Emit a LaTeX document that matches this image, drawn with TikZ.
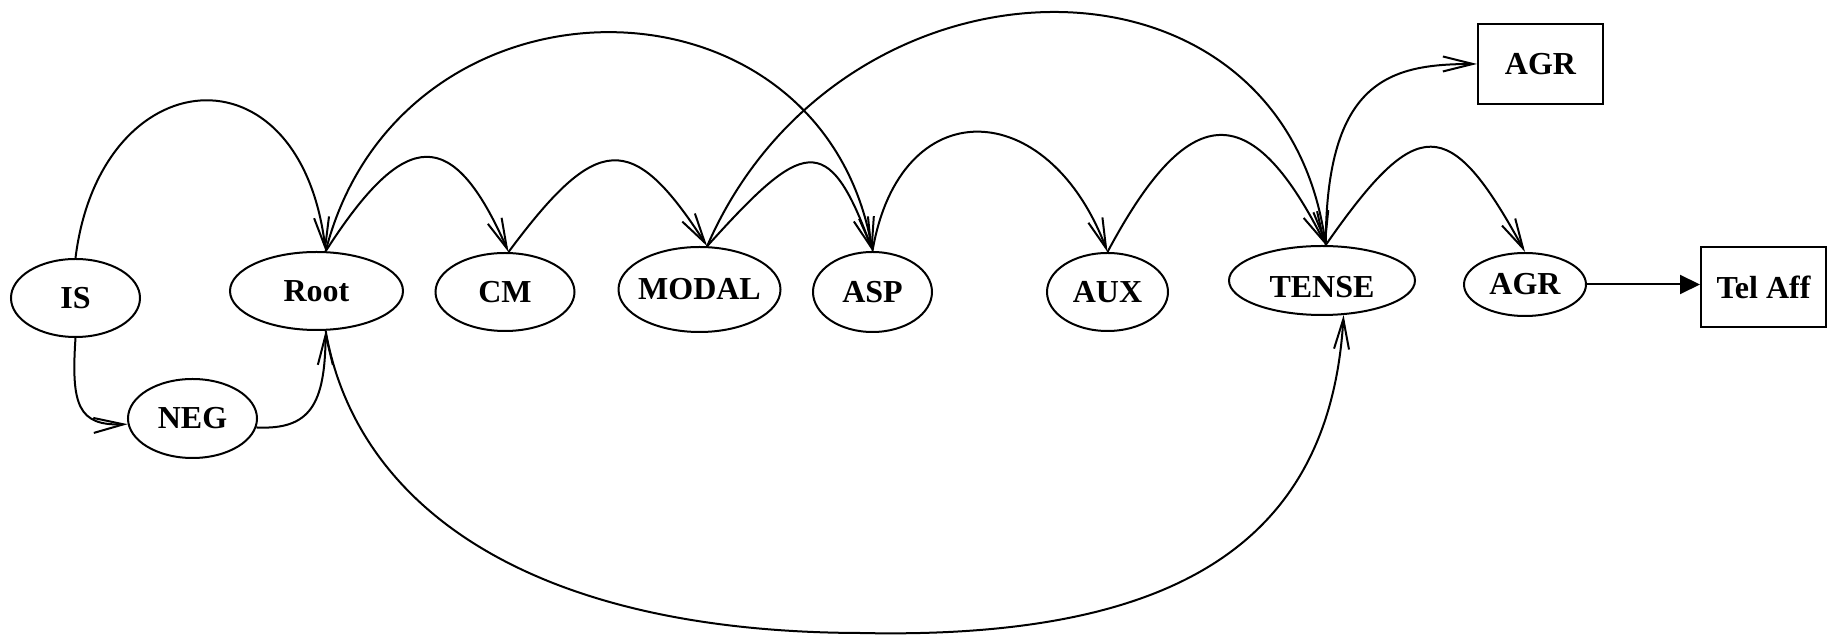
\documentclass[tikz,border=0pt]{standalone}
\usepackage{fontspec}
\setmainfont{Liberation Serif}
\usetikzlibrary{arrows.meta,shapes.geometric}

\begin{document}
\begin{tikzpicture}[->, >={Straight Barb[length=15pt,width=7.5pt]}, line width=1pt, x=0.5pt, y=-0.5pt]
    \tikzset{var/.style={draw=black, ellipse, inner sep=0pt, font=\bfseries\fontsize{16}{19}\selectfont}};
    \tikzset{box/.style={draw=black, rectangle, inner sep=0pt, minimum width=62.5pt, minimum height=40pt, font=\bfseries\fontsize{16}{19}\selectfont}};
    \useasboundingbox (0,0) rectangle (1833,635);
    \node[var, minimum width=64.5pt, minimum height=39pt] (sIS) at (75.5,298) {IS};
    \node[var, minimum width=64.5pt, minimum height=39.5pt] (sNEG) at (192.5,418.5) {NEG};
    \node[var, minimum width=86.5pt, minimum height=39pt] (sRoot) at (316.5,291) {Root};
    \node[var, minimum width=69.5pt, minimum height=39pt] (sCM) at (505,292) {CM};
    \node[var, minimum width=81pt, minimum height=42.5pt, inner xsep=-3pt] (sMODAL) at (699.5,289.5) {MODAL};
    \node[var, minimum width=59.5pt, minimum height=40pt] (sASP) at (872.5,292) {ASP};
    \node[var, minimum width=60.5pt, minimum height=39pt] (sAUX) at (1107.5,292) {AUX};
    \node[var, minimum width=93pt, minimum height=34.5pt, text height=17.5pt] (sTENSE) at (1322,280.5) {TENSE};
    \node[var, minimum width=61pt, minimum height=31.5pt] (sAGR) at (1525,284.5) {AGR};
    \node[box] (bAGR) at (1540.5,64) {AGR};
    \node[box] (bTel) at (1763.5,287.5) {Tel Aff};
    % arcs above the row
    \draw (sIS.north) .. controls (100,60) and (300,40) .. (sRoot.77);
    \draw (sRoot.77) .. controls (406,126) and (453,126) .. (sCM.85);
    \draw (sRoot.77) .. controls (400,-40) and (820,-40) .. (sASP.north);
    \draw (sCM.85) .. controls (597,133) and (632,130) .. (sMODAL.80);
    \draw (sMODAL.80) .. controls (802,141) and (828,128) .. (sASP.north);
    \draw (sMODAL.80) .. controls (840,-60) and (1280,-70) .. (sTENSE.84);
    \draw (sASP.north) .. controls (900,90) and (1048,95) .. (sAUX.north);
    \draw (sAUX.north) .. controls (1187.5,102) and (1249.5,94) .. (sTENSE.84);
    \draw (sTENSE.84) .. controls (1326,80) and (1390,64) .. (bAGR.west);
    \draw (sTENSE.84) .. controls (1417,114) and (1449,113) .. (sAGR.north);
    % below the row
    \draw (sIS.south) .. controls (71,405) and (78,426) .. (sNEG.185);
    \draw (sNEG.-8) .. controls (310,430) and (325,405) .. (sRoot.-77);
    \draw (sRoot.-77) .. controls (355,500) and (520,632) .. (860,633) .. controls (1180,640) and (1330,540) .. (sTENSE.-58);
    \draw[-{Triangle[length=10pt,width=9.5pt]}] (sAGR.east) -- (sAGR.east -| bTel.west);
\end{tikzpicture}
\end{document}
